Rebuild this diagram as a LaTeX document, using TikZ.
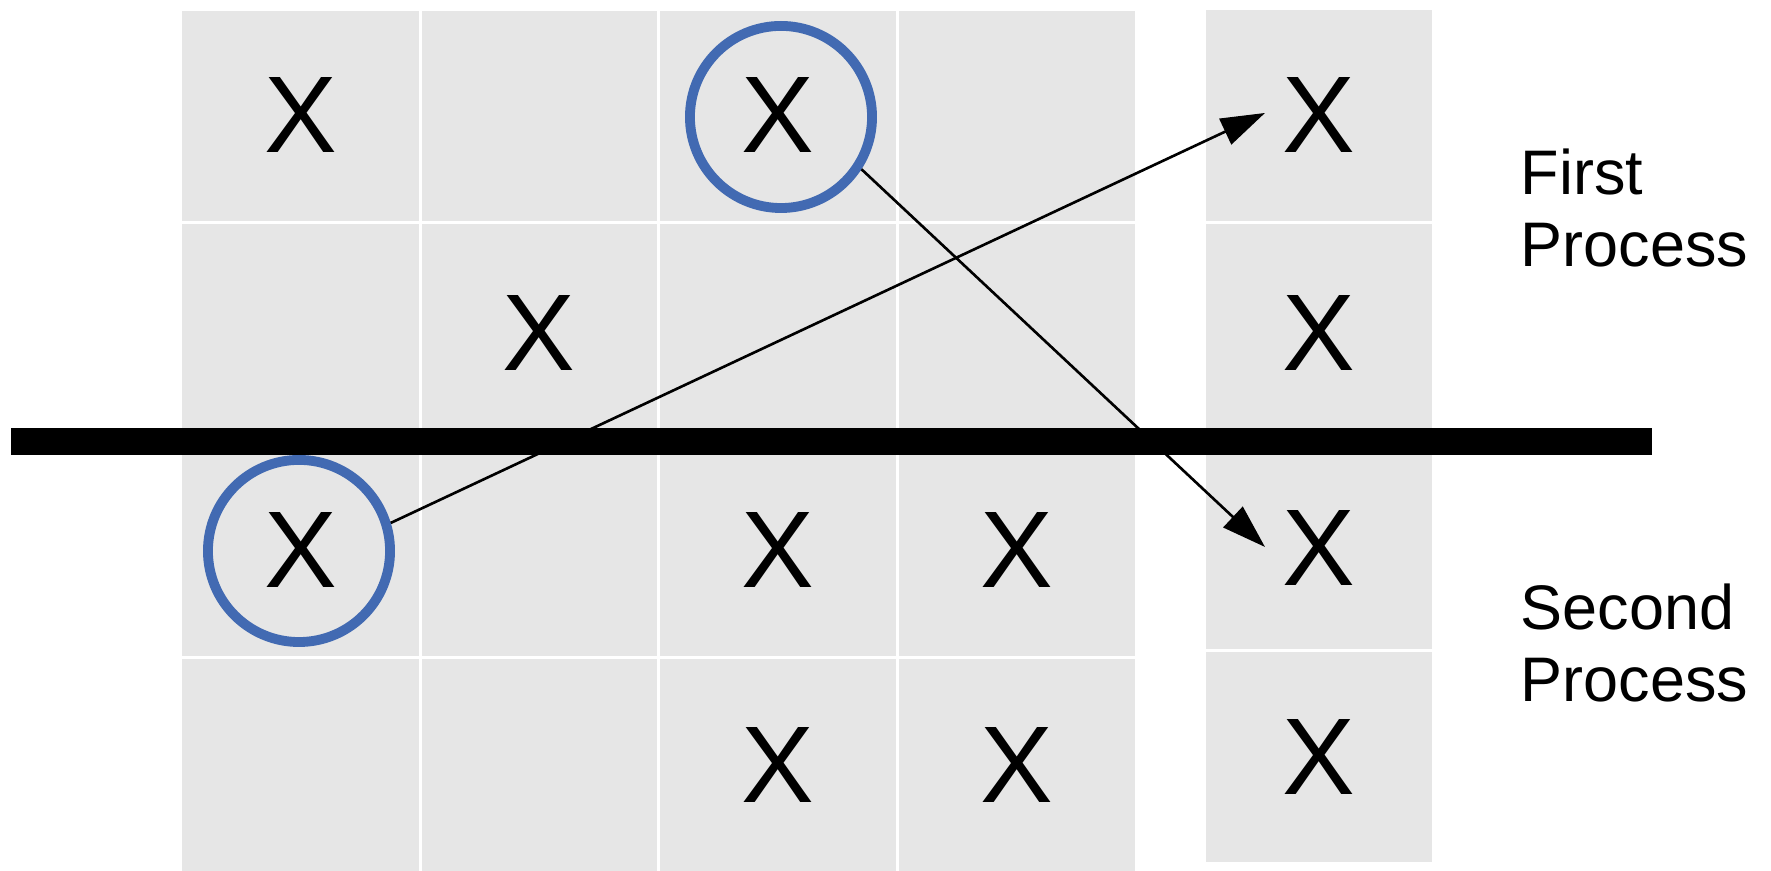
\documentclass[tikz,border=0pt]{standalone}
\usepackage{fontspec}
\setmainfont{Liberation Sans}
\usetikzlibrary{arrows.meta}
\definecolor{cellgray}{RGB}{230,230,230}
\definecolor{ringblue}{RGB}{66,106,178}
\begin{document}
\begin{tikzpicture}[x=0.01cm,y=0.01cm,
  cellbox/.style={fill=cellgray,draw=none},
  xmark/.style={inner sep=0pt,font=\fontsize{31}{37}\selectfont},
  ring/.style={circle,draw=ringblue,line width=2.8pt,minimum size=1.82cm,inner sep=0pt},
  link/.style={-{Triangle[length=12.5pt,width=8pt]},line width=0.75pt},
  proclabel/.style={inner sep=0pt,align=left,anchor=north west,font=\fontsize{17.9}{20.5}\selectfont}]
\useasboundingbox (0,0) rectangle (1771,871);
% main grid
\foreach \xa/\xb in {182/419,422/657,660/896,899/1135}
  \foreach \ya/\yb in {860/650,647/432,429/215,212/0}
    \fill[cellbox] (\xa,\ya) rectangle (\xb,\yb);
% right column
\foreach \ya/\yb in {861/650,647/436,433/222,219/9}
  \fill[cellbox] (1206,\ya) rectangle (1432,\yb);
% thick bar
\fill[black] (11,443) rectangle (1652,416);
% X marks
\node[xmark] (a1) at (301,756) {X};
\node[xmark] (a3) at (778,756) {X};
\node[xmark] (ar1) at (1319,756) {X};
\node[xmark] (b2) at (539,538) {X};
\node[xmark] (br) at (1319,538) {X};
\node[xmark] (c1) at (301,321) {X};
\node[xmark] (c3) at (778,321) {X};
\node[xmark] (c4) at (1017,321) {X};
\node[xmark] (cr) at (1319,323) {X};
\node[xmark] (d3) at (778,106) {X};
\node[xmark] (d4) at (1017,106) {X};
\node[xmark] (dr) at (1319,114) {X};
% rings
\node[ring] (ringtop) at (781,754) {};
\node[ring] (ringbot) at (299,320) {};
% arrow targets
\coordinate (tip1) at (1265,758);
\coordinate (tip2) at (1265,324);
\draw[link] (ringbot.17) -- (tip1);
\draw[link] (ringtop.-33.5) -- (tip2);
% labels
\node[proclabel] (firstlab) at (1520,723) {First\\Process};
\node[proclabel] (secondlab) at (1520,288) {Second\\Process};
\end{tikzpicture}
\end{document}
